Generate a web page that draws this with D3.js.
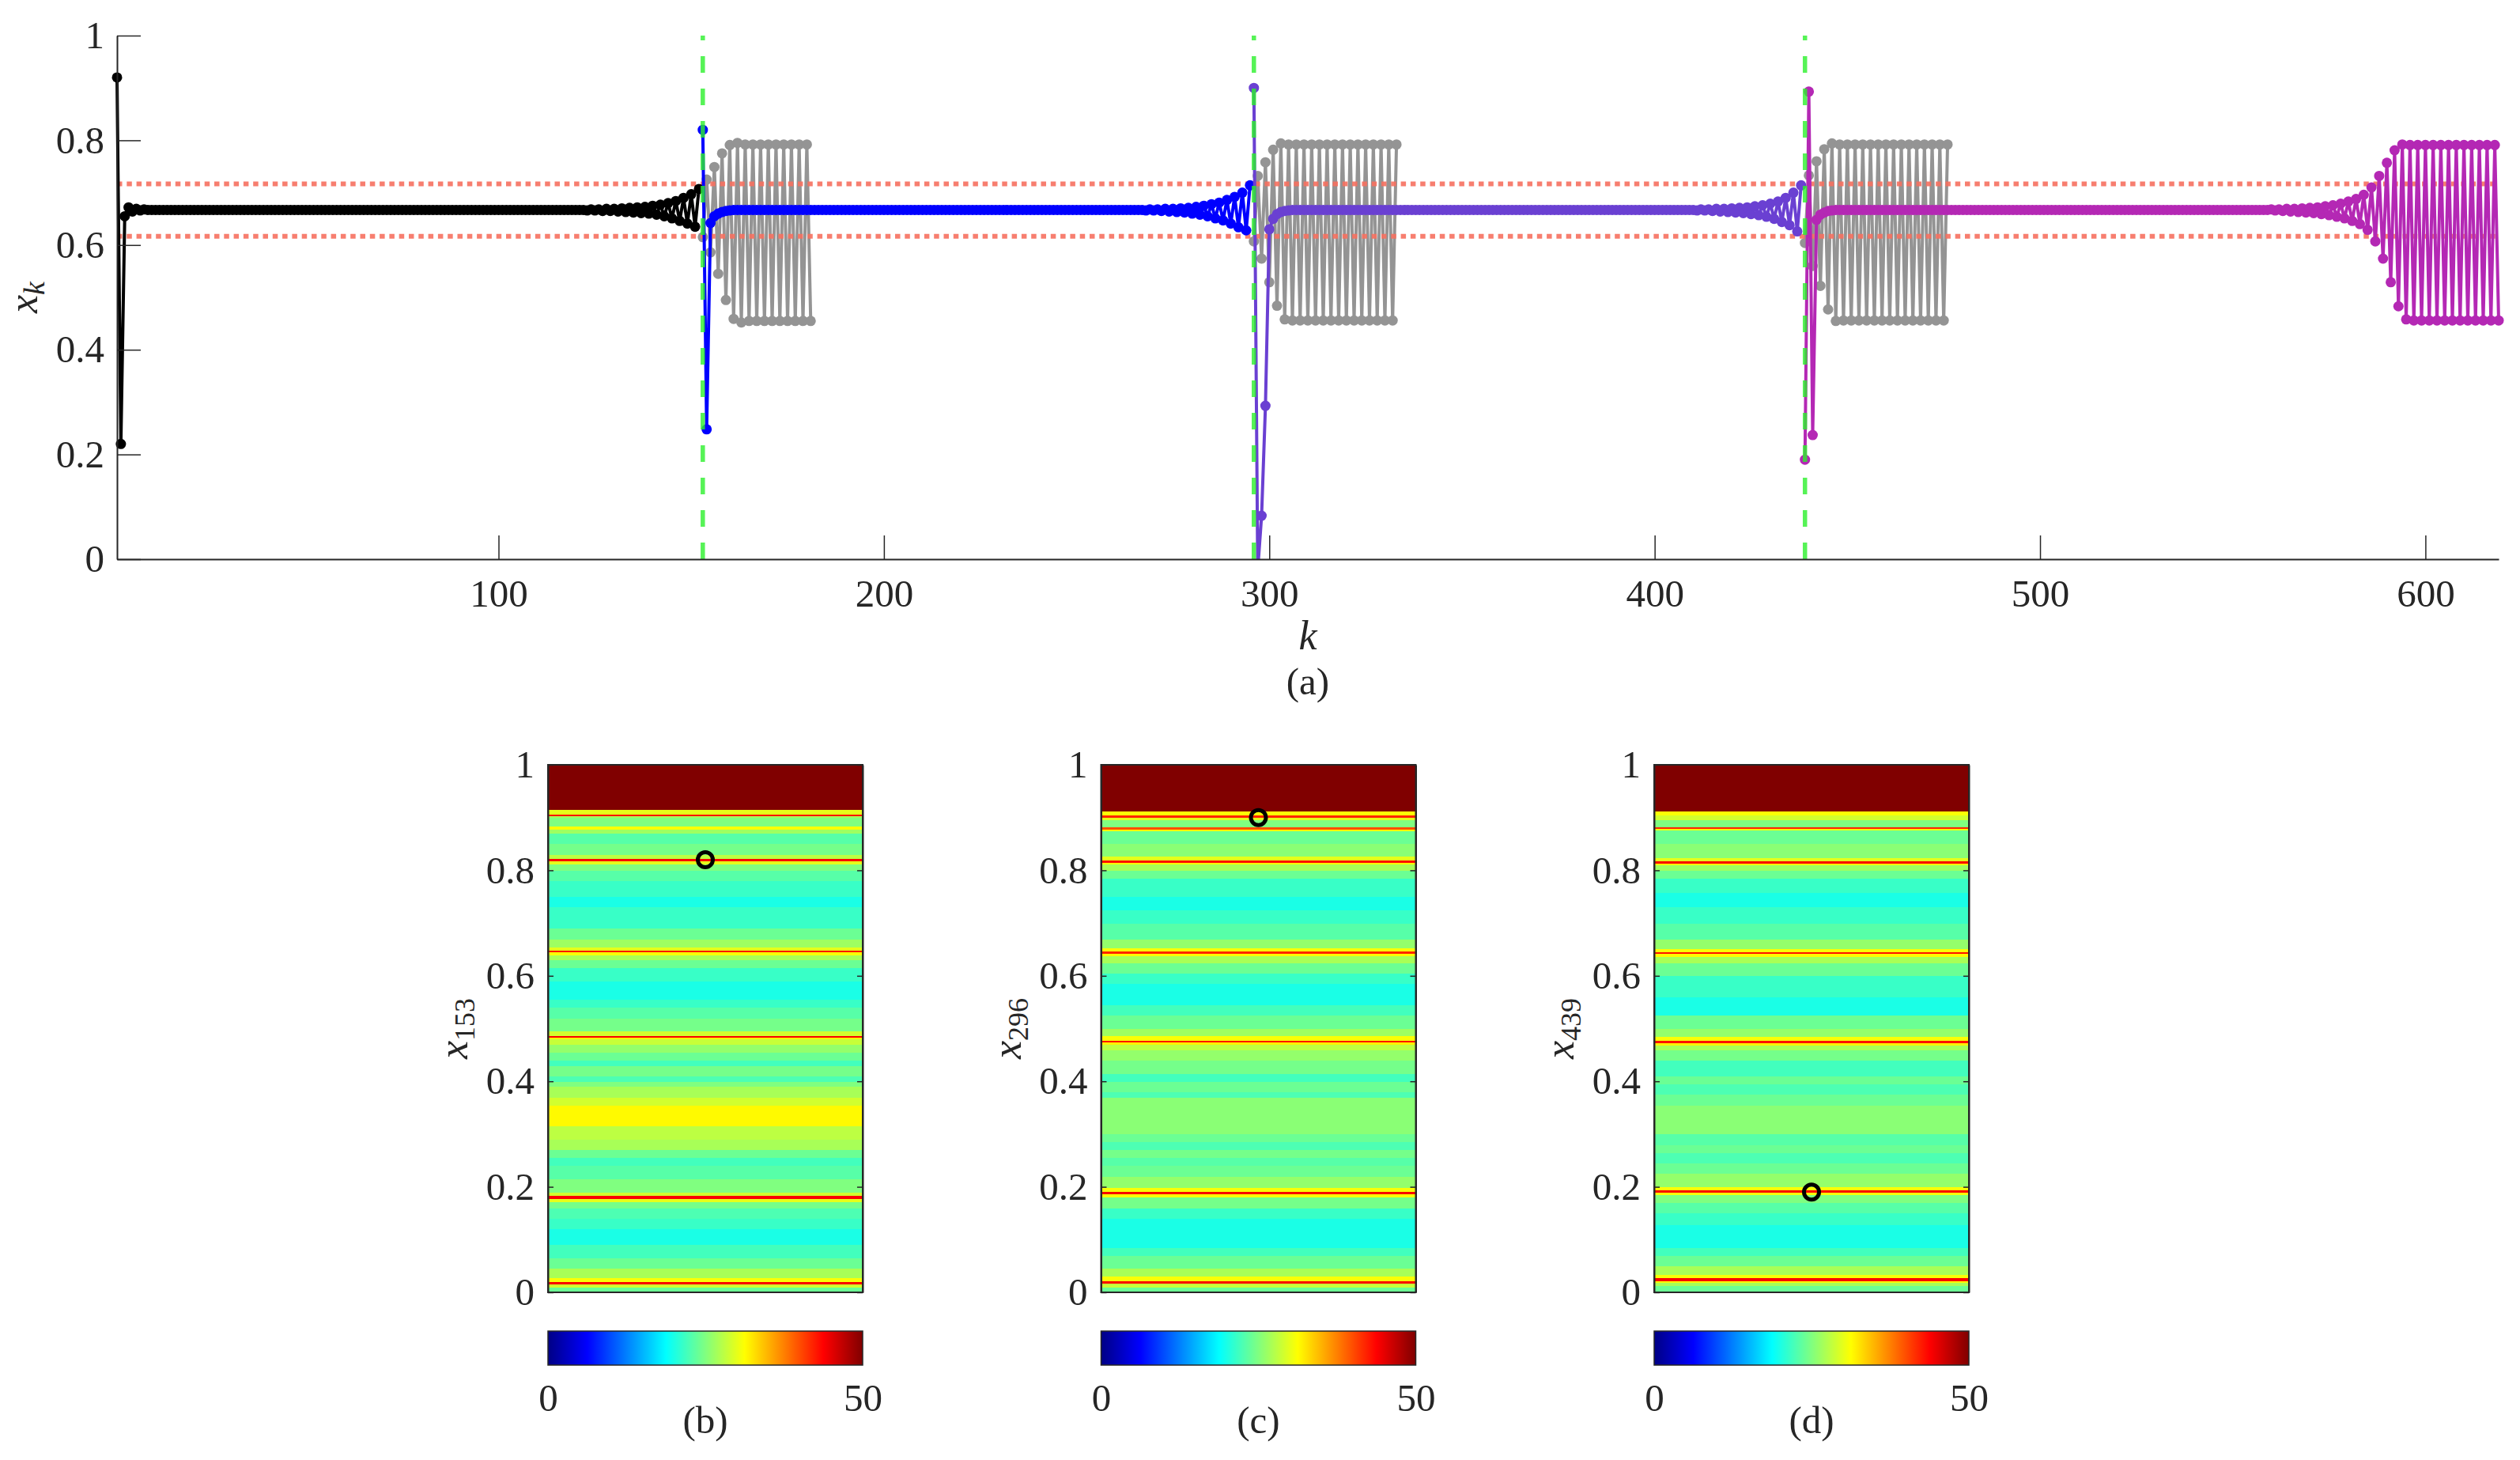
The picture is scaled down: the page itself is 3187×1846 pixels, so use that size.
<!DOCTYPE html>
<meta charset="utf-8">
<style>

body { margin: 0; background: #fff; }
text { font-family: "Liberation Serif", "DejaVu Serif", serif; fill: #262626; }
.axis path, .axis line { stroke: #262626; }
.axis path { stroke-width: 2px; }
.axis line { stroke-width: 1.5px; }
.series { fill: none; stroke-width: 4px; stroke-linejoin: round; }

</style>
<body>
<svg width="3187" height="1846"></svg>

<script src="https://d3js.org/d3.v7.min.js"></script>
<script>

// ---- panel (a) data ----
var kTicks = [100, 200, 300, 400, 500, 600];
var xTicks = [0, 0.2, 0.4, 0.6, 0.8, 1];
var switchK = [153, 296, 439];          // green dashed lines
var bandLevels = [0.6167, 0.7167];      // red dotted lines
var segStart = [1, 153, 296, 439];
var segColors = ["#000000", "#0000ff", "#6a40d2", "#b428b4"];

// x_k, k = 1..152
var seg1 = [
  0.92, 0.22, 0.655, 0.672, 0.664, 0.669, 0.666, 0.668, 0.667, 0.667,
  0.667, 0.667, 0.667, 0.667, 0.667, 0.667, 0.667, 0.667, 0.667, 0.667,
  0.667, 0.667, 0.667, 0.667, 0.667, 0.667, 0.667, 0.667, 0.667, 0.667,
  0.667, 0.667, 0.667, 0.667, 0.667, 0.667, 0.667, 0.667, 0.667, 0.667,
  0.667, 0.667, 0.667, 0.667, 0.667, 0.667, 0.667, 0.667, 0.667, 0.667,
  0.667, 0.667, 0.667, 0.667, 0.667, 0.667, 0.667, 0.667, 0.667, 0.667,
  0.667, 0.667, 0.667, 0.667, 0.667, 0.667, 0.667, 0.667, 0.667, 0.667,
  0.667, 0.667, 0.667, 0.667, 0.667, 0.667, 0.667, 0.667, 0.667, 0.667,
  0.667, 0.667, 0.667, 0.667, 0.667, 0.667, 0.667, 0.667, 0.667, 0.667,
  0.667, 0.667, 0.667, 0.667, 0.667, 0.667, 0.667, 0.667, 0.667, 0.667,
  0.667, 0.667, 0.667, 0.667, 0.667, 0.667, 0.667, 0.667, 0.667, 0.667,
  0.667, 0.667, 0.667, 0.667, 0.667, 0.667, 0.667, 0.667, 0.667, 0.667,
  0.667, 0.667, 0.666, 0.668, 0.666, 0.668, 0.665, 0.669, 0.665, 0.669,
  0.664, 0.670, 0.663, 0.671, 0.662, 0.672, 0.661, 0.673, 0.660, 0.675,
  0.658, 0.677, 0.655, 0.680, 0.651, 0.684, 0.646, 0.690, 0.641, 0.697,
  0.635, 0.707
];

// x_k, k = 153..295
var seg2 = [
  0.82, 0.248, 0.642, 0.655, 0.660, 0.663, 0.665, 0.666,
  0.667, 0.667, 0.667, 0.667, 0.667, 0.667, 0.667, 0.667, 0.667, 0.667,
  0.667, 0.667, 0.667, 0.667, 0.667, 0.667, 0.667, 0.667, 0.667, 0.667,
  0.667, 0.667, 0.667, 0.667, 0.667, 0.667, 0.667, 0.667, 0.667, 0.667,
  0.667, 0.667, 0.667, 0.667, 0.667, 0.667, 0.667, 0.667, 0.667, 0.667,
  0.667, 0.667, 0.667, 0.667, 0.667, 0.667, 0.667, 0.667, 0.667, 0.667,
  0.667, 0.667, 0.667, 0.667, 0.667, 0.667, 0.667, 0.667, 0.667, 0.667,
  0.667, 0.667, 0.667, 0.667, 0.667, 0.667, 0.667, 0.667, 0.667, 0.667,
  0.667, 0.667, 0.667, 0.667, 0.667, 0.667, 0.667, 0.667, 0.667, 0.667,
  0.667, 0.667, 0.667, 0.667, 0.667, 0.667, 0.667, 0.667, 0.667, 0.667,
  0.667, 0.667, 0.667, 0.667, 0.667, 0.667, 0.667, 0.667, 0.667, 0.667,
  0.667, 0.667, 0.667, 0.667, 0.667, 0.667, 0.667, 0.666, 0.668, 0.666,
  0.668, 0.665, 0.669, 0.664, 0.669, 0.663, 0.670, 0.662, 0.671, 0.660,
  0.673, 0.658, 0.675, 0.655, 0.678, 0.651, 0.681, 0.647, 0.686, 0.641,
  0.692, 0.634, 0.700, 0.628, 0.714
];

// x_k, k = 296..438
var seg3 = [
  0.90, -0.02, 0.083, 0.293, 0.630,
  0.650, 0.659, 0.663, 0.665, 0.666, 0.667, 0.667, 0.667, 0.667, 0.667,
  0.667, 0.667, 0.667, 0.667, 0.667, 0.667, 0.667, 0.667, 0.667, 0.667,
  0.667, 0.667, 0.667, 0.667, 0.667, 0.667, 0.667, 0.667, 0.667, 0.667,
  0.667, 0.667, 0.667, 0.667, 0.667, 0.667, 0.667, 0.667, 0.667, 0.667,
  0.667, 0.667, 0.667, 0.667, 0.667, 0.667, 0.667, 0.667, 0.667, 0.667,
  0.667, 0.667, 0.667, 0.667, 0.667, 0.667, 0.667, 0.667, 0.667, 0.667,
  0.667, 0.667, 0.667, 0.667, 0.667, 0.667, 0.667, 0.667, 0.667, 0.667,
  0.667, 0.667, 0.667, 0.667, 0.667, 0.667, 0.667, 0.667, 0.667, 0.667,
  0.667, 0.667, 0.667, 0.667, 0.667, 0.667, 0.667, 0.667, 0.667, 0.667,
  0.667, 0.667, 0.667, 0.667, 0.667, 0.667, 0.667, 0.667, 0.667, 0.667,
  0.667, 0.667, 0.667, 0.667, 0.667, 0.667, 0.667, 0.667, 0.667, 0.667,
  0.666, 0.668, 0.666, 0.668, 0.665, 0.669, 0.664, 0.669, 0.663, 0.670,
  0.662, 0.671, 0.661, 0.672, 0.659, 0.674, 0.657, 0.676, 0.654, 0.679,
  0.650, 0.683, 0.644, 0.690, 0.638, 0.700, 0.626, 0.714
];

// x_k, k = 439..619
var seg4 = [
  0.19, 0.893,
  0.237, 0.648, 0.658, 0.662, 0.665, 0.666, 0.667, 0.667, 0.667, 0.667,
  0.667, 0.667, 0.667, 0.667, 0.667, 0.667, 0.667, 0.667, 0.667, 0.667,
  0.667, 0.667, 0.667, 0.667, 0.667, 0.667, 0.667, 0.667, 0.667, 0.667,
  0.667, 0.667, 0.667, 0.667, 0.667, 0.667, 0.667, 0.667, 0.667, 0.667,
  0.667, 0.667, 0.667, 0.667, 0.667, 0.667, 0.667, 0.667, 0.667, 0.667,
  0.667, 0.667, 0.667, 0.667, 0.667, 0.667, 0.667, 0.667, 0.667, 0.667,
  0.667, 0.667, 0.667, 0.667, 0.667, 0.667, 0.667, 0.667, 0.667, 0.667,
  0.667, 0.667, 0.667, 0.667, 0.667, 0.667, 0.667, 0.667, 0.667, 0.667,
  0.667, 0.667, 0.667, 0.667, 0.667, 0.667, 0.667, 0.667, 0.667, 0.667,
  0.667, 0.667, 0.667, 0.667, 0.667, 0.667, 0.667, 0.667, 0.667, 0.667,
  0.667, 0.667, 0.667, 0.667, 0.667, 0.667, 0.667, 0.667, 0.667, 0.667,
  0.667, 0.667, 0.667, 0.667, 0.667, 0.667, 0.667, 0.667, 0.667, 0.668,
  0.666, 0.668, 0.665, 0.669, 0.664, 0.669, 0.663, 0.670, 0.662, 0.671,
  0.661, 0.672, 0.659, 0.674, 0.657, 0.676, 0.654, 0.679, 0.651, 0.683,
  0.646, 0.688, 0.640, 0.696, 0.629, 0.710, 0.607, 0.732, 0.574, 0.757,
  0.529, 0.781, 0.483, 0.792, 0.458, 0.791, 0.456, 0.791, 0.456, 0.791,
  0.456, 0.791, 0.456, 0.791, 0.456, 0.791, 0.456, 0.791, 0.456, 0.791,
  0.456, 0.791, 0.456, 0.791, 0.456, 0.791, 0.456, 0.791, 0.456
];

// unperturbed continuations (grey)
var greyStart = [153, 296, 439];
var grey1 = [
  0.615, 0.725, 0.586, 0.749, 0.545, 0.775, 0.495, 0.791,
  0.459, 0.795, 0.452, 0.792, 0.455, 0.792, 0.455, 0.792, 0.455, 0.792,
  0.455, 0.792, 0.455, 0.792, 0.455, 0.792, 0.455, 0.792, 0.455, 0.792,
  0.455
];
var grey2 = [
  0.607, 0.732, 0.574, 0.758, 0.529,
  0.782, 0.484, 0.794, 0.458, 0.792, 0.456, 0.792, 0.456, 0.792, 0.456,
  0.792, 0.456, 0.792, 0.456, 0.792, 0.456, 0.792, 0.456, 0.792, 0.456,
  0.792, 0.456, 0.792, 0.456, 0.792, 0.456, 0.792, 0.456, 0.792, 0.456,
  0.792, 0.456, 0.792
];
var grey3 = [
  0.604, 0.733,
  0.560, 0.760, 0.522, 0.783, 0.477, 0.794, 0.455, 0.792, 0.456, 0.792,
  0.456, 0.792, 0.456, 0.792, 0.456, 0.792, 0.456, 0.792, 0.456, 0.792,
  0.456, 0.792, 0.456, 0.792, 0.456, 0.792, 0.456, 0.792, 0.456, 0.792,
  0.456, 0.792, 0.456, 0.792, 0.456, 0.792
];

// ---- panels (b)-(d): horizontal bands (lower edge, value 0..50) ----
var heatB_edges = [0, 0.010, 0.015, 0.020, 0.028, 0.045, 0.065, 0.090, 0.120, 0.140,
  0.160, 0.172, 0.178, 0.183, 0.190, 0.215, 0.240, 0.255, 0.270, 0.290,
  0.315, 0.355, 0.370, 0.390, 0.400, 0.410, 0.430, 0.440, 0.455, 0.470,
  0.480, 0.483, 0.487, 0.495, 0.520, 0.540, 0.555, 0.590, 0.615, 0.630,
  0.640, 0.645, 0.649, 0.655, 0.670, 0.690, 0.730, 0.750, 0.780, 0.800,
  0.812, 0.817, 0.822, 0.830, 0.850, 0.870, 0.878, 0.884, 0.900, 0.903,
  0.906, 0.915];
var heatB_vals = [24, 29, 44, 31, 27, 24, 22, 20, 21.5, 22.5,
  24.5, 30, 44, 29, 25, 23, 22, 24, 27, 28,
  31.5, 29, 27, 25, 22.5, 24.5, 22, 24, 26, 28.5,
  31, 44, 29, 24.5, 23, 21.5, 20, 21.5, 24, 27,
  31, 43, 30, 26.5, 24, 21.5, 20, 21.5, 23, 25,
  30, 44, 28, 24.5, 23, 26.5, 31, 25, 27, 43,
  30, 50];

var heatC_edges = [0, 0.010, 0.017, 0.022, 0.030, 0.045, 0.070, 0.085, 0.140, 0.160,
  0.180, 0.186, 0.191, 0.198, 0.220, 0.240, 0.255, 0.270, 0.285, 0.300,
  0.370, 0.380, 0.400, 0.415, 0.440, 0.460, 0.470, 0.474, 0.478, 0.486,
  0.500, 0.525, 0.545, 0.585, 0.605, 0.625, 0.638, 0.643, 0.647, 0.653,
  0.670, 0.700, 0.725, 0.750, 0.785, 0.800, 0.811, 0.815, 0.819, 0.826,
  0.850, 0.874, 0.878, 0.882, 0.895, 0.900, 0.904, 0.912];
var heatC_vals = [24, 28.5, 44, 31, 27, 24, 22, 20, 21.5, 24.5,
  31, 44, 31, 26, 24, 23, 24.5, 22.5, 24, 25.5,
  22.5, 24, 22, 24.5, 26, 28, 32, 43, 31, 26.5,
  24, 22, 20, 21.5, 24, 27, 31.5, 42, 31, 26,
  23, 21.5, 20, 21.5, 24, 27, 31.5, 43, 30, 25.5,
  24, 31, 40, 25, 30, 42, 31, 50];

var heatD_edges = [0, 0.012, 0.019, 0.022, 0.027, 0.034, 0.050, 0.070, 0.085, 0.128,
  0.150, 0.170, 0.185, 0.190, 0.194, 0.200, 0.225, 0.245, 0.265, 0.280,
  0.300, 0.355, 0.375, 0.395, 0.410, 0.440, 0.460, 0.469, 0.473, 0.477,
  0.485, 0.500, 0.525, 0.560, 0.600, 0.625, 0.637, 0.642, 0.646, 0.652,
  0.670, 0.700, 0.730, 0.757, 0.785, 0.800, 0.810, 0.813, 0.817, 0.824,
  0.850, 0.876, 0.879, 0.882, 0.895, 0.905, 0.912];
var heatD_vals = [24, 27, 31, 44, 31, 27, 24, 22, 20, 21.5,
  23, 25, 31, 44, 31, 26, 24, 22.5, 24, 23,
  25.5, 24, 22.5, 24, 22, 24.5, 27, 32, 43, 31,
  26, 24, 20, 21.5, 24, 27, 31.5, 43, 31, 26,
  23, 21.5, 20, 21.5, 24, 26.5, 31, 44, 30, 25.5,
  24, 31, 42, 25, 29, 31, 50];

var panelLabels = ["(b)", "(c)", "(d)"];
var cbarTicks = [0, 50];


var svg = d3.select("svg"),
    tickFont = 49;

var x = d3.scaleLinear().domain([1, 619]).range([148, 3160]),
    y = d3.scaleLinear().domain([0, 1]).range([707, 45]);

var jet = d3.scaleLinear()
    .domain([0, 6.25, 18.75, 31.25, 43.75, 50])
    .range(["#000085", "#0000ff", "#00ffff", "#ffff00", "#ff0000", "#800000"])
    .clamp(true);

var defs = svg.append("defs");
defs.append("clipPath").attr("id", "clipA").append("rect")
    .attr("x", x(1) - 20).attr("y", y(1))
    .attr("width", x(619) - x(1) + 40).attr("height", y(0) - y(1));

var line = d3.line()
    .x(function(d) { return x(d.k); })
    .y(function(d) { return y(d.v); });

function toPoints(vals, k0) {
  return vals.map(function(v, i) { return {k: k0 + i, v: v}; });
}

function drawSeries(g, pts, color) {
  g.append("path")
      .datum(pts)
      .attr("class", "series")
      .attr("clip-path", "url(#clipA)")
      .attr("stroke", color)
      .attr("d", line);
  g.selectAll(null)
      .data(pts.filter(function(d) { return d.v >= 0 && d.v <= 1; }))
    .enter().append("circle")
      .attr("cx", function(d) { return x(d.k); })
      .attr("cy", function(d) { return y(d.v); })
      .attr("r", 6.5)
      .attr("fill", color);
}

// ---- panel (a) ----
var gA = svg.append("g");

[grey1, grey2, grey3].forEach(function(vals, i) {
  drawSeries(gA.append("g"), toPoints(vals, greyStart[i]), "#949494");
});

gA.selectAll(".band")
    .data(bandLevels)
  .enter().append("line")
    .attr("class", "band")
    .attr("x1", x(1)).attr("x2", x(619))
    .attr("y1", function(d) { return y(d); })
    .attr("y2", function(d) { return y(d); })
    .attr("stroke", "#f6705f")
    .attr("stroke-opacity", 0.9)
    .attr("stroke-width", 6)
    .attr("stroke-dasharray", "6.5,5.8");

[seg1, seg2, seg3, seg4].forEach(function(vals, i) {
  drawSeries(gA.append("g"), toPoints(vals, segStart[i]), segColors[i]);
});

gA.selectAll(".switch")
    .data(switchK)
  .enter().append("line")
    .attr("class", "switch")
    .attr("x1", function(d) { return x(d); })
    .attr("x2", function(d) { return x(d); })
    .attr("y1", y(0)).attr("y2", y(1))
    .attr("stroke", "#2cf02c")
    .attr("stroke-opacity", 0.8)
    .attr("stroke-width", 5.5)
    .attr("stroke-dasharray", "21,20");

var axL = gA.append("g")
    .attr("class", "axis")
    .attr("transform", "translate(" + x(1) + ",0)")
    .call(d3.axisLeft(y).tickValues(xTicks).tickSize(-30).tickSizeOuter(0)
      .tickPadding(16).tickFormat(d3.format("")));

var axB = gA.append("g")
    .attr("class", "axis")
    .attr("transform", "translate(0," + y(0) + ")")
    .call(d3.axisBottom(x).tickValues(kTicks).tickSize(-30).tickSizeOuter(0)
      .tickPadding(25));

gA.append("text")
    .attr("transform", "translate(47," + ((y(0) + y(1)) / 2) + ") rotate(-90)")
    .attr("text-anchor", "middle")
    .attr("font-size", 52)
    .call(function(t) {
      t.append("tspan").attr("font-style", "italic").text("x");
      t.append("tspan").attr("font-style", "italic").attr("font-size", 38).attr("dy", 9).text("k");
    });

gA.append("text")
    .attr("x", x(310)).attr("y", 821)
    .attr("text-anchor", "middle")
    .attr("font-size", 52)
    .attr("font-style", "italic")
    .text("k");

gA.append("text")
    .attr("x", x(310)).attr("y", 878)
    .attr("text-anchor", "middle")
    .attr("font-size", tickFont)
    .text("(a)");

// ---- panels (b)-(d) ----
var heatPanels = [
  {edges: heatB_edges, vals: heatB_vals, k: switchK[0], mark: seg2[0]},
  {edges: heatC_edges, vals: heatC_vals, k: switchK[1], mark: seg3[0]},
  {edges: heatD_edges, vals: heatD_vals, k: switchK[2], mark: seg4[0]}
];

var hy = d3.scaleLinear().domain([0, 1]).range([1634, 967]),
    panelW = 398,
    cbarTop = 1683, cbarH = 43;

var grad = defs.append("linearGradient").attr("id", "jetGrad");
grad.selectAll("stop")
    .data(d3.range(0, 50.01, 1.25))
  .enter().append("stop")
    .attr("offset", function(d) { return (d / 50 * 100) + "%"; })
    .attr("stop-color", function(d) { return jet(d); });

heatPanels.forEach(function(p, i) {
  var left = 693 + i * 699.5;
  var hx = d3.scaleLinear().domain([0, 1]).range([left, left + panelW]);
  var g = svg.append("g");

  var bands = p.edges.map(function(e, j) {
    return {lo: e, hi: j + 1 < p.edges.length ? p.edges[j + 1] : 1, v: p.vals[j]};
  });

  g.selectAll("rect.cell")
      .data(bands)
    .enter().append("rect")
      .attr("class", "cell")
      .attr("x", hx(0))
      .attr("width", hx(1) - hx(0))
      .attr("y", function(d) { return hy(d.hi); })
      .attr("height", function(d) { return hy(d.lo) - hy(d.hi) + 0.4; })
      .attr("fill", function(d) { return jet(d.v); })
      .attr("shape-rendering", "crispEdges");

  g.append("circle")
      .attr("cx", hx(0.5)).attr("cy", hy(p.mark))
      .attr("r", 9.5)
      .attr("fill", "none")
      .attr("stroke", "#000")
      .attr("stroke-width", 5);

  g.append("rect")
      .attr("x", hx(0)).attr("y", hy(1))
      .attr("width", hx(1) - hx(0)).attr("height", hy(0) - hy(1))
      .attr("fill", "none").attr("stroke", "#262626").attr("stroke-width", 2);

  g.append("g")
      .attr("class", "axis")
      .attr("transform", "translate(" + hx(0) + ",0)")
      .call(d3.axisLeft(hy).tickValues(xTicks).tickSize(-7).tickSizeOuter(0)
        .tickPadding(17).tickFormat(d3.format("")));

  g.append("g")
      .attr("class", "axis")
      .attr("transform", "translate(" + hx(1) + ",0)")
      .call(d3.axisRight(hy).tickValues(xTicks).tickSize(-7).tickSizeOuter(0)
        .tickFormat(""));

  g.append("text")
      .attr("transform", "translate(" + (left - 102) + "," + ((hy(0) + hy(1)) / 2) + ") rotate(-90)")
      .attr("text-anchor", "middle")
      .attr("font-size", 52)
      .call(function(t) {
        t.append("tspan").attr("font-style", "italic").text("x");
        t.append("tspan").attr("font-size", 36).attr("dy", 9).text(p.k);
      });

  // colorbar
  var cx = d3.scaleLinear().domain([0, 50]).range([left, left + panelW]);
  g.append("rect")
      .attr("x", cx(0)).attr("y", cbarTop)
      .attr("width", cx(50) - cx(0)).attr("height", cbarH)
      .attr("fill", "url(#jetGrad)")
      .attr("stroke", "#262626").attr("stroke-width", 1.5);

  g.append("g")
      .attr("class", "axis cbar")
      .attr("transform", "translate(0," + (cbarTop + cbarH) + ")")
      .call(d3.axisBottom(cx).tickValues(cbarTicks).tickSize(0).tickPadding(23));

  g.append("text")
      .attr("x", hx(0.5)).attr("y", 1812)
      .attr("text-anchor", "middle")
      .attr("font-size", tickFont)
      .text(panelLabels[i]);
});

svg.selectAll(".axis").attr("font-size", tickFont).attr("font-family", null);
svg.selectAll(".axis text").attr("fill", "#262626");
svg.selectAll(".cbar path").remove();

</script>
</body>
